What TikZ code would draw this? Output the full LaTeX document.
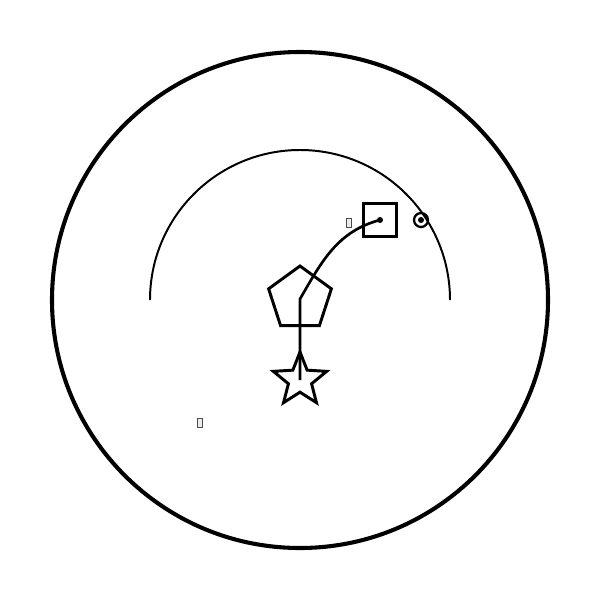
\documentclass[tikz,border=0pt]{standalone}
\usepackage{tikz}
\usetikzlibrary{positioning,arrows.meta,shapes.geometric}

\begin{document}
\begin{tikzpicture}[
  x=0.025cm, y=-0.025cm,
  >=Latex,
  shp/.style={draw, line width=2.1pt, inner sep=0pt, outer sep=0pt},
  tofu/.style={draw=black!70, fill=black!8, line width=0.4pt, inner sep=0pt,
               minimum width=3.5, minimum height=6.5},
  dot/.style={fill, circle, inner sep=0pt},
  ar/.style={line width=1.9pt},
]
  \useasboundingbox (0,0) rectangle (600,600);

  % outer ring and inner arc
  \node[draw, circle, line width=2.9pt, inner sep=0pt, minimum size=496*0.025cm] (ring) at (300,300) {};
  \draw[line width=1.4pt] (150,300) arc[start angle=180, end angle=0, radius=150*0.025cm];

  % shapes
  \node[shp, regular polygon, regular polygon sides=5, minimum size=66*0.025cm] (pg) at (300,299) {};
  \node[shp, star, star points=5, star point ratio=2.3, minimum size=56*0.025cm] (st) at (300,380) {};
  \node[shp, rectangle, minimum size=33*0.025cm] (sq) at (380,220) {};
  \node[dot, minimum size=6*0.025cm] (sqd) at (sq.center) {};

  % marker on the arc
  \node[draw, circle, line width=1.6pt, inner sep=0pt, minimum size=14*0.025cm] (mk) at (421,220) {};
  \node[dot, minimum size=6*0.025cm] (mkd) at (mk.center) {};

  % small labels
  \node[tofu] (t1) at (349,223) {};
  \node[tofu] (t2) at (200,423) {};

  % path
  \draw[ar] (st.center) -- (pg.center)
        to[out=60, in=195] (sqd.center);
\end{tikzpicture}
\end{document}
